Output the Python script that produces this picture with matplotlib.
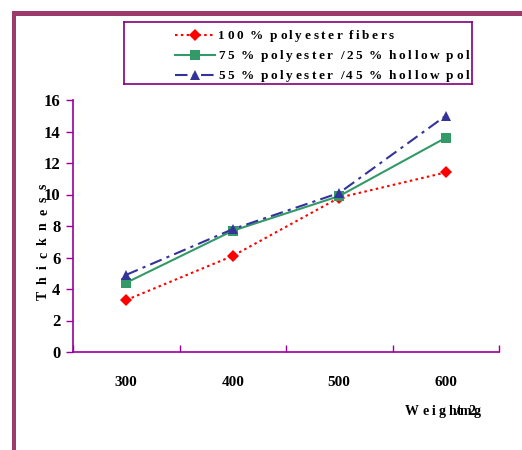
import matplotlib
matplotlib.use("Agg")
import matplotlib.pyplot as plt
from matplotlib.lines import Line2D
from matplotlib.patches import Rectangle
from matplotlib.font_manager import FontProperties

categories = ["300", "400", "500", "600"]
pct100 = [3.3, 6.1, 9.8, 11.4]
pct75 = [4.4, 7.7, 9.9, 13.6]
pct55 = [4.9, 7.8, 10.1, 15.0]
series_labels = [
    "100 % polyester fibers",
    "75 % polyester /25 % hollow polyester fibers",
    "55 % polyester /45 % hollow polyester fibers",
]
y_ticks = [0, 2, 4, 6, 8, 10, 12, 14, 16]
y_title = "Thickness"
x_title = ("Weigh", "/tm2g")

FAMILY = ["Liberation Serif", "DejaVu Serif"]
plt.rcParams["font.family"] = FAMILY
plt.rcParams["font.weight"] = "bold"

W, H = 522, 450
fig = plt.figure(figsize=(W / 100, H / 100), dpi=100)
renderer = fig.canvas.get_renderer()


def fx(px):
    return px / W


def fy(py):
    return 1 - py / H


def glyph_widths(s, size):
    prop = FontProperties(family=FAMILY, weight="bold", size=size)
    out = []
    for ch in s:
        if ch == " ":
            out.append(None)
        else:
            w, _, _ = renderer.get_text_width_height_descent(ch, prop, ismath=False)
            out.append(w)
    return out


def letterspaced(target, x0, y0, s, size, track, space, vertical=False, limit=None, **kw):
    """Draw s one glyph at a time with extra tracking; returns the end of the last glyph."""
    pos = 0.0
    end = 0.0
    widths = glyph_widths(s, size)
    for ch, w in zip(s, widths):
        if w is None:
            pos += space
            continue
        if limit is not None and x0 + pos >= limit:
            break
        if vertical:
            target.text(x0, y0 - pos, ch, rotation=90, rotation_mode="anchor",
                        ha="left", va="baseline", fontsize=size, fontweight="bold", **kw)
        else:
            target.text(x0 + pos, y0, ch, ha="left", va="baseline",
                        fontsize=size, fontweight="bold", **kw)
        end = pos + w
        pos += w + track
    return end


def fit_track(s, size, span, space):
    widths = glyph_widths(s, size)
    glyphs = [w for w in widths if w is not None]
    n_space = sum(1 for w in widths if w is None)
    return (span - sum(glyphs) - n_space * space) / max(len(glyphs) - 1 + n_space, 1)


# pixel-coordinate overlay spanning the whole figure
pix = fig.add_axes([0, 0, 1, 1])
pix.set_xlim(0, W)
pix.set_ylim(H, 0)
pix.axis("off")

# outer frame (top and left edges)
frame_col = "#9C3B6B"
pix.add_patch(Rectangle((12, 11), W - 12, 5, facecolor=frame_col, edgecolor="none"))
pix.add_patch(Rectangle((12, 11), 4, H - 11, facecolor=frame_col, edgecolor="none"))

axis_col = "#990099"
ax = fig.add_axes([fx(73), fy(352), fx(499 - 73), (352 - 100) / H])
x = list(range(len(categories)))

styles = [
    dict(color="#FF0000", linestyle=(0, (1.2, 1.6)), marker="D", markersize=6.5),
    dict(color="#339966", linestyle="-", marker="s", markersize=6.5),
    dict(color="#333399", linestyle=(0, (6, 2.5, 1.5, 2.5)), marker="^", markersize=7.5),
]
for vals, st in zip([pct100, pct75, pct55], styles):
    ax.plot(x, vals, linewidth=1.5, markeredgewidth=0, clip_on=False, **st)

ax.set_xlim(-0.5, len(categories) - 0.5)
ax.set_ylim(0, 16)
ax.set_yticks(y_ticks)
ax.set_yticklabels([str(v) for v in y_ticks], fontsize=12, fontweight="bold")
ax.set_xticks([i - 0.5 for i in range(len(categories) + 1)])
ax.set_xticklabels([])
ax.set_xticks(x, minor=True)
ax.set_xticklabels(categories, minor=True, fontsize=11, fontweight="bold")
ax.tick_params(axis="x", which="major", length=5, color=axis_col, direction="in", width=1)
ax.tick_params(axis="x", which="minor", length=0, pad=17)
ax.tick_params(axis="y", length=5, color=axis_col, width=1, pad=4)
for side in ("top", "right"):
    ax.spines[side].set_visible(False)
for side in ("left", "bottom"):
    ax.spines[side].set_color(axis_col)
    ax.spines[side].set_linewidth(1.2)

# axis titles, letter-spaced
yt_size = 10
yt_track = fit_track(y_title, yt_size, 116, 0)
letterspaced(pix, 47, 300, y_title, yt_size, yt_track, 0, vertical=True)

xt_size = 10
head_end = letterspaced(pix, 405, 415, x_title[0], xt_size, 3.2, 0)
letterspaced(pix, 405 + head_end - 1, 415, x_title[1], xt_size, -2.3, 0)

# legend box, entries clipped at its right edge
lax = fig.add_axes([fx(124), fy(84), fx(472 - 124), (84 - 22) / H])
lax.set_xlim(124, 472)
lax.set_ylim(84, 22)
lax.set_xticks([])
lax.set_yticks([])
for sp in lax.spines.values():
    sp.set_color("#800080")
    sp.set_linewidth(1.2)

lg_size = 9.5
lg_space = 4.4
lg_track = 2.55
rows = [35, 55, 75]
for label, st, ry in zip(series_labels, styles, rows):
    lax.add_line(Line2D([175, 215], [ry, ry], linewidth=1.5,
                        color=st["color"], linestyle=st["linestyle"]))
    lax.plot([195], [ry], marker=st["marker"], markersize=st["markersize"],
             color=st["color"], markeredgewidth=0, linestyle="none")
    letterspaced(lax, 218, ry + 4, label, lg_size, lg_track, lg_space,
                 limit=471, clip_on=True)

fig.savefig("out.png", dpi=100)
